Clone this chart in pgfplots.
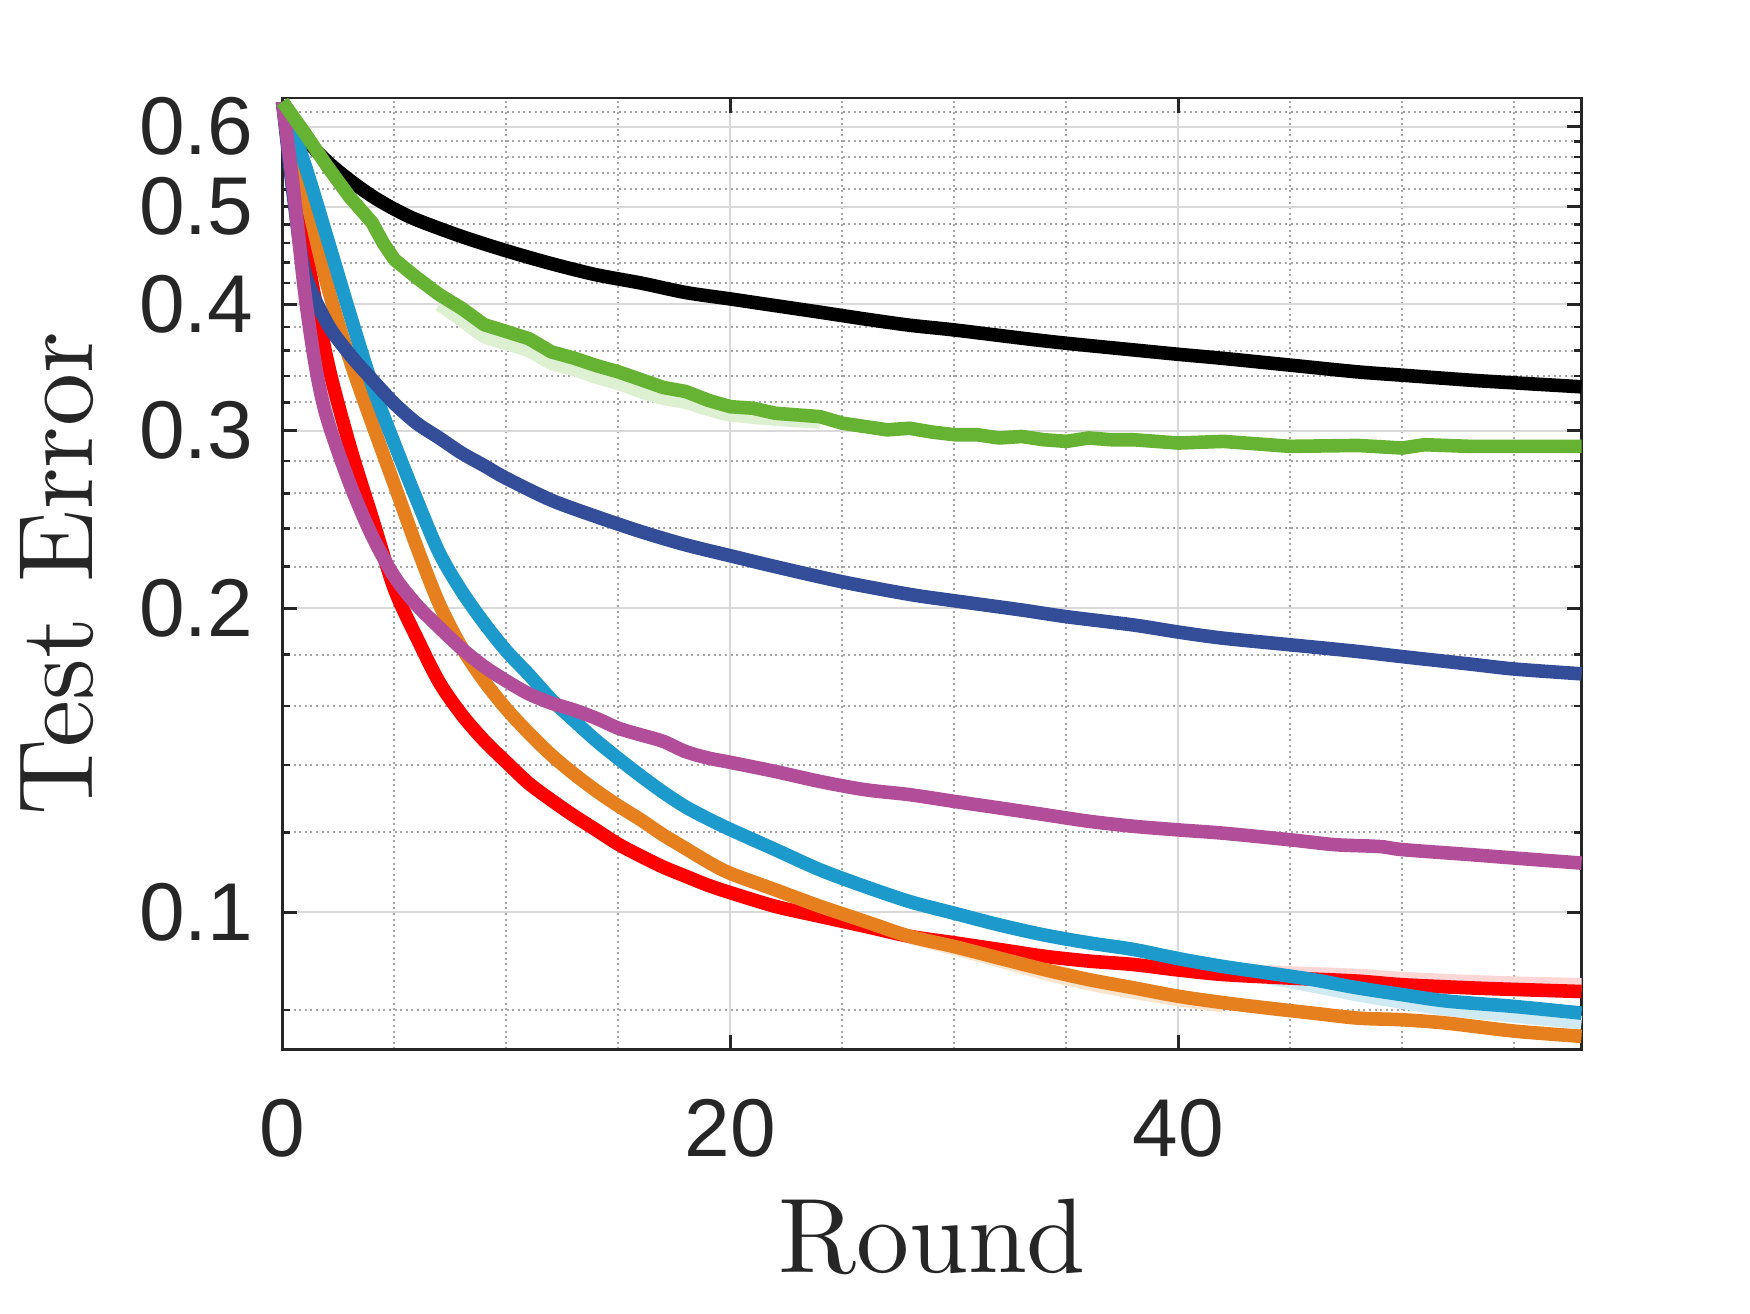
\documentclass[border=0pt]{standalone}
\usepackage{fontspec}
\newfontfamily\tickfont{Liberation Sans}
\newfontfamily\lblfont{lmroman10-regular}[Extension=.otf]
\usepackage{pgfplots}
\pgfplotsset{compat=1.18}
\definecolor{txt}{RGB}{38,38,38}
\definecolor{cgreen}{RGB}{102,178,50}
\definecolor{cnavy}{RGB}{51,77,153}
\definecolor{cpurple}{RGB}{178,77,153}
\definecolor{ccyan}{RGB}{28,154,204}
\definecolor{corange}{RGB}{230,128,30}
\definecolor{cred}{RGB}{255,0,0}
\definecolor{lgreen}{RGB}{222,240,210}
\definecolor{lcyan}{RGB}{208,234,244}
\definecolor{lred}{RGB}{255,214,214}
\definecolor{lorange}{RGB}{250,228,204}
\begin{document}
\begin{tikzpicture}
\begin{axis}[name=ax, scale only axis, width=324.75pt, height=237.75pt,
  ymode=log, xmin=0, xmax=58, ymin=0.0732, ymax=0.64,
  clip=false,
  xtick={0,20,40}, xticklabels={0,20,40},
  minor xtick={5,10,15,25,30,35,45,50,55},
  ytick={0.1,0.2,0.3,0.4,0.5,0.6}, yticklabels={0.1,0.2,0.3,0.4,0.5,0.6},
  minor ytick={0.08,0.12,0.14,0.16,0.18,0.22,0.24,0.26,0.28,0.32,0.34,0.36,0.38,0.42,0.44,0.46,0.48,0.52,0.54,0.56,0.58,0.62},
  grid=both,
  major grid style={line width=0.5pt, color=black!15},
  minor grid style={line width=0.5pt, color=black!35, dash pattern=on 0.5pt off 0.9pt},
  major tick length=3.6pt, minor tick length=1.8pt,
  tick style={txt, line width=0.6pt},
  minor x tick style={draw=none},
  axis line style={txt, line width=0.6pt},
  ticklabel style={font=\tickfont\fontsize{20.5}{20.5}\selectfont, text=txt, inner sep=0pt},
  xticklabel shift=12.2pt, yticklabel shift=7.1pt,
  xlabel={Round}, ylabel={Test Error},
  label style={font=\lblfont\fontsize{26.5}{26.5}\selectfont, text=txt},
  xlabel style={at={(axis description cs:0.5,-0.2352)}, anchor=base},
  ylabel style={at={(axis description cs:-0.1466,0.5)}, anchor=base},
  every axis plot/.append style={line width=3.4pt, line join=round},
]
% light bands (spread)
\addplot[color=lgreen, smooth] coordinates {
(7,0.40)(8,0.386)(9,0.372)(10,0.366)(11,0.360)(12,0.350)(13,0.345)(14,0.339)(15,0.334)(16,0.328)(17,0.323)(18,0.320)(19,0.315)(20,0.311)(22,0.308)(24,0.306)};
\addplot[color=lcyan, smooth] coordinates {
(40,0.0897)(42,0.0878)(44,0.0862)(46,0.0846)(48,0.0829)(50,0.0815)(52,0.0802)(55,0.079)(58,0.0778)};
\addplot[color=lred, smooth] coordinates {
(42,0.0877)(45,0.0871)(48,0.0866)(50,0.086)(53,0.0854)(55,0.0851)(58,0.0848)};
\addplot[color=lorange, smooth] coordinates {
(28,0.0945)(30,0.0921)(32,0.0896)(34,0.0871)(36,0.085)(38,0.0834)(40,0.082)(42,0.0808)};
% black
\addplot[color=black, smooth] coordinates {
(0,0.635)(1,0.585)(2,0.554)(3,0.531)(4,0.512)(5,0.497)(6,0.485)(8,0.467)(10,0.452)(12,0.439)(14,0.428)(16,0.42)(18,0.411)(20,0.405)(22,0.399)(24,0.393)(26,0.387)(28,0.3815)(30,0.3774)(33,0.3704)(35,0.3661)(38,0.3606)(40,0.357)(42,0.3537)(45,0.3483)(48,0.343)(50,0.3404)(53,0.3366)(55,0.3345)(58,0.3315)};
% red
\addplot[color=cred, smooth] coordinates {
(0,0.635)(1,0.46)(2,0.352)(3,0.29)(4,0.246)(5,0.209)(6,0.187)(7,0.169)(8,0.157)(9,0.148)(10,0.1408)(11,0.1342)(12,0.1292)(13,0.1247)(14,0.1207)(15,0.1168)(16,0.1137)(17,0.1109)(18,0.1086)(19,0.1064)(20,0.1046)(22,0.1014)(24,0.0991)(26,0.0969)(28,0.0947)(30,0.0933)(32,0.0919)(34,0.0905)(36,0.0895)(38,0.0888)(40,0.0877)(42,0.0868)(45,0.0861)(48,0.0855)(50,0.0848)(53,0.0842)(55,0.0839)(58,0.0835)};
% orange
\addplot[color=corange, smooth] coordinates {
(0,0.635)(1,0.517)(2,0.418)(3,0.353)(4,0.305)(5,0.265)(6,0.23)(7,0.202)(8,0.183)(9,0.1695)(10,0.159)(11,0.1505)(12,0.1432)(13,0.1372)(14,0.132)(15,0.1275)(16,0.1235)(17,0.1193)(18,0.1157)(19,0.1122)(20,0.1093)(22,0.1053)(24,0.1014)(26,0.098)(28,0.0947)(30,0.0925)(32,0.0901)(34,0.0878)(36,0.0858)(38,0.0842)(40,0.0826)(42,0.0814)(44,0.0804)(46,0.0795)(48,0.0786)(50,0.0783)(52,0.0777)(55,0.0763)(58,0.0754)};
% cyan
\addplot[color=ccyan, smooth] coordinates {
(0,0.635)(1,0.55)(2,0.465)(3,0.392)(4,0.333)(5,0.291)(6,0.256)(7,0.227)(8,0.208)(9,0.1935)(10,0.1815)(11,0.172)(12,0.1625)(13,0.155)(14,0.148)(15,0.142)(16,0.1365)(17,0.1315)(18,0.1272)(19,0.1238)(20,0.1208)(22,0.1154)(24,0.1102)(26,0.1061)(28,0.1025)(30,0.0998)(32,0.0972)(34,0.095)(36,0.0933)(38,0.0919)(40,0.09)(42,0.0884)(44,0.0871)(46,0.0858)(48,0.0842)(50,0.0829)(52,0.0817)(55,0.0807)(58,0.0795)};
% navy
\addplot[color=cnavy, smooth] coordinates {
(0,0.635)(0.5,0.51)(1,0.43)(2,0.383)(3,0.357)(4,0.337)(5,0.319)(6,0.305)(7,0.295)(8,0.285)(9,0.277)(10,0.269)(12,0.256)(14,0.2466)(16,0.2383)(18,0.2312)(20,0.2255)(22,0.22)(25,0.2125)(28,0.2065)(30,0.2035)(33,0.1993)(35,0.1963)(38,0.1926)(40,0.1895)(42,0.1869)(45,0.1841)(48,0.1813)(50,0.1792)(53,0.1762)(55,0.1742)(58,0.1723)};
% purple
\addplot[color=cpurple, smooth] coordinates {
(0,0.635)(0.5,0.518)(1,0.41)(1.5,0.345)(2,0.308)(3,0.266)(4,0.236)(5,0.215)(6,0.2015)(7,0.1915)(8,0.1825)(9,0.1752)(10,0.1695)(11,0.1646)(12,0.1612)(13,0.1587)(14,0.1557)(15,0.1522)(16,0.1499)(17,0.1477)(18,0.1443)(19,0.1422)(20,0.1408)(22,0.1379)(24,0.1348)(26,0.1323)(28,0.1308)(30,0.1288)(32,0.1269)(34,0.125)(36,0.1231)(38,0.1217)(40,0.1207)(42,0.1198)(45,0.118)(47,0.1167)(49,0.1162)(50,0.1154)(53,0.1141)(55,0.1132)(58,0.1119)};
% green
\addplot[color=cgreen] coordinates {
(0,0.635)(1,0.591)(2,0.548)(3,0.511)(4,0.482)(4.5,0.46)(5,0.443)(6,0.425)(7,0.409)(8,0.3965)(9,0.382)(10,0.376)(11,0.370)(12,0.359)(13,0.354)(14,0.348)(15,0.343)(16,0.337)(17,0.331)(18,0.328)(19,0.3215)(20,0.3168)(21,0.3157)(22,0.3121)(23,0.3109)(24,0.3097)(25,0.3051)(26,0.3028)(27,0.3005)(28,0.3016)(29,0.299)(30,0.2972)(31,0.2972)(32,0.295)(33,0.296)(34,0.2938)(35,0.2927)(36,0.295)(37,0.2938)(38,0.2938)(39,0.2927)(40,0.2916)(42,0.2927)(44,0.2905)(45,0.2894)(48,0.29)(50,0.2883)(51,0.2905)(53,0.2894)(55,0.2894)(58,0.2894)};
\end{axis}
\pgfresetboundingbox
\path[use as bounding box] ([shift={(-70.625pt,-65.925pt)}]ax.south west) rectangle ([shift={(42.125pt,24.575pt)}]ax.north east);
\end{tikzpicture}
\end{document}
